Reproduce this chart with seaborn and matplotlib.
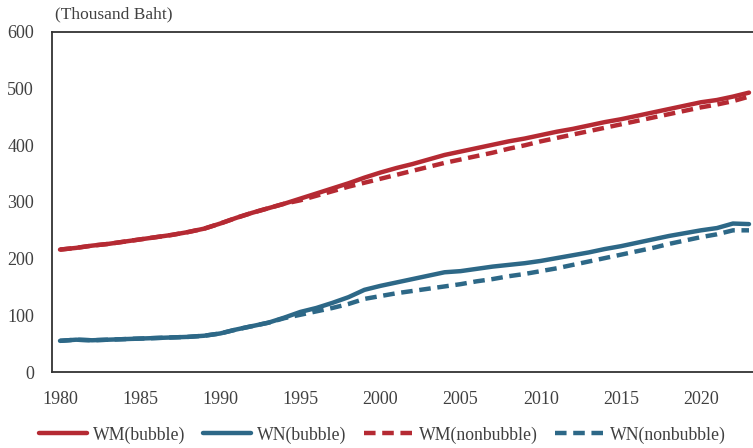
#!/usr/bin/env python3

import matplotlib
matplotlib.use("Agg")
import matplotlib.pyplot as plt
import numpy as np
import pandas as pd
import seaborn as sns

years = list(range(1980, 2024))

wm_bubble = [216, 219, 223, 226, 230, 234, 238, 242, 247, 253,
             262, 272, 281, 289, 297, 306, 315, 324, 333, 343,
             352, 360, 367, 375, 383, 389, 395, 401, 407, 412,
             418, 424, 429, 435, 441, 446, 452, 458, 464, 470,
             476, 480, 486, 493]
wm_nonbubble = [216, 219, 223, 226, 230, 234, 238, 242, 247, 253,
                262, 272, 281, 289, 297, 303, 311, 319, 327, 334,
                341, 348, 355, 362, 369, 375, 381, 387, 394, 400,
                407, 413, 419, 425, 431, 437, 443, 449, 455, 461,
                467, 472, 478, 486]
wn_bubble = [55, 57, 56, 57, 58, 59, 60, 61, 62, 64,
             68, 75, 81, 87, 96, 106, 113, 122, 132, 145,
             152, 158, 164, 170, 176, 178, 182, 186, 189, 192,
             196, 201, 206, 211, 217, 222, 228, 234, 240, 245,
             250, 254, 262, 261]
wn_nonbubble = [55, 57, 56, 57, 58, 59, 60, 61, 62, 64,
                68, 75, 81, 87, 95, 101, 107, 113, 120, 129,
                134, 139, 143, 147, 151, 155, 160, 164, 169, 173,
                178, 183, 189, 195, 201, 207, 213, 219, 226, 232,
                238, 243, 250, 250]

series_names = ["WM(bubble)", "WN(bubble)", "WM(nonbubble)", "WN(nonbubble)"]
tick_years = [1980, 1985, 1990, 1995, 2000, 2005, 2010, 2015, 2020]
y_ticks = [0, 100, 200, 300, 400, 500, 600]

red = "#B52A33"
blue = "#2D6887"
text_color = "#404040"

df = pd.DataFrame({
    "year": years * 4,
    "value": wm_bubble + wn_bubble + wm_nonbubble + wn_nonbubble,
    "series": np.repeat(series_names, len(years)),
})

sns.set_style("white")
plt.rcParams["font.family"] = ["Liberation Serif", "DejaVu Serif"]
plt.rcParams["font.size"] = 13

fig = plt.figure(figsize=(7.53, 4.48), dpi=100)
ax = fig.add_axes([52 / 753, 76 / 448, 705 / 753, 340 / 448])

palette = {"WM(bubble)": red, "WN(bubble)": blue,
           "WM(nonbubble)": red, "WN(nonbubble)": blue}
dashes = {"WM(bubble)": "", "WN(bubble)": "",
          "WM(nonbubble)": (2.6, 1.5), "WN(nonbubble)": (2.6, 1.5)}

sns.lineplot(data=df, x="year", y="value", hue="series", style="series",
             hue_order=series_names, style_order=series_names,
             palette=palette, dashes=dashes, linewidth=3.2, ax=ax,
             legend=False)

ax.set_xlim(1979.5, 2023.5)
ax.set_ylim(0, 600)
ax.set_xticks(tick_years)
ax.set_xticklabels([str(y) for y in tick_years])
# tick marks sit between the years, labels on the years
ax.set_xticks([y - 0.5 for y in tick_years], minor=True)
ax.set_yticks(y_ticks)
ax.tick_params(axis="x", which="major", length=0, pad=14, colors=text_color,
               labelsize=13)
ax.tick_params(axis="x", which="minor", direction="in", length=5,
               width=1.2, color="#333333")
ax.tick_params(axis="y", direction="in", length=5, width=1.2,
               color="#333333", labelcolor=text_color, pad=13, labelsize=13)
ax.set_xlabel("")
ax.set_ylabel("")

for side in ["left", "bottom", "top"]:
    ax.spines[side].set_color("#333333")
    ax.spines[side].set_linewidth(1.3)
ax.spines["right"].set_visible(False)

fig.text(55 / 753, 1 - 14 / 448, "(Thousand Baht)", ha="left", va="center",
         fontsize=12.5, color=text_color)

# legend across the bottom
handles = ax.get_lines()[:4]
fig.legend(handles, series_names, loc="center", bbox_to_anchor=(382 / 753, 13 / 448),
           ncol=4, frameon=False, handlelength=2.7, handletextpad=0.35,
           columnspacing=1.0, fontsize=12.8, labelcolor=text_color)

fig.savefig("out.png", dpi=100)
